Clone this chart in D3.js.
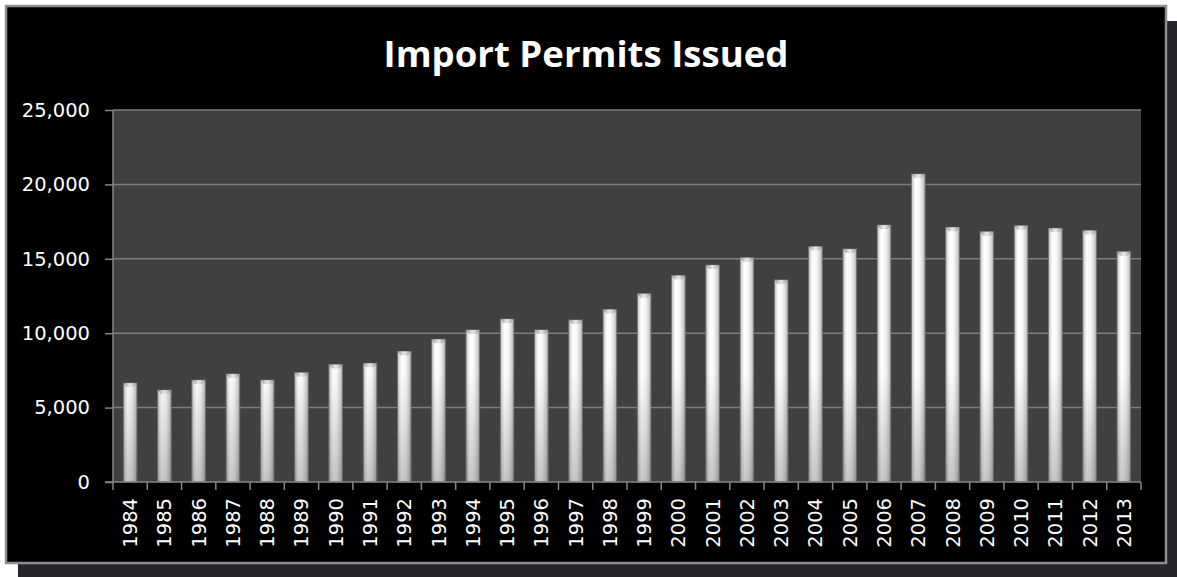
<!DOCTYPE html>
<html><head><meta charset="utf-8">
<script src="https://cdn.jsdelivr.net/npm/d3@7/dist/d3.min.js"></script>
<style>html,body{margin:0;padding:0;background:#fff;}svg{display:block;}</style>
</head><body>
<svg id="chart" width="1177" height="577"></svg>
<script>
const title = "Import Permits Issued";
const years = ["1984","1985","1986","1987","1988","1989","1990","1991","1992","1993","1994","1995","1996","1997","1998","1999","2000","2001","2002","2003","2004","2005","2006","2007","2008","2009","2010","2011","2012","2013"];
const permits = [6650,6180,6850,7260,6850,7350,7900,7980,8780,9590,10220,10950,10220,10890,11600,12650,13870,14580,15070,13580,15820,15660,17270,20700,17120,16820,17220,17050,16900,15480];
const yTicks = [0,5000,10000,15000,20000,25000];

const svg = d3.select("#chart");
const W = 1177, H = 577;
const plot = {left:113, right:1141, top:110, bottom:482};

// shadow
svg.append("rect").attr("x",18).attr("y",21).attr("width",W-18).attr("height",H-21).attr("fill","#26262a");
// frame
svg.append("rect").attr("x",6).attr("y",6).attr("width",1160).attr("height",557)
  .attr("fill","#000").attr("stroke","#8e8e92").attr("stroke-width",2.5);

const defs = svg.append("defs");
const g1 = defs.append("linearGradient").attr("id","barGrad").attr("x1","0").attr("x2","1").attr("y1","0").attr("y2","0");
[[0,"#a4a4a4"],[0.1,"#d8d8d8"],[0.3,"#ffffff"],[0.6,"#f6f6f6"],[0.85,"#d2d2d2"],[1,"#a0a0a0"]]
  .forEach(([o,c])=>g1.append("stop").attr("offset",o).attr("stop-color",c));
const g2 = defs.append("linearGradient").attr("id","capGrad").attr("x1","0").attr("x2","1").attr("y1","0").attr("y2","0");
[[0,"#858585"],[0.3,"#c4c4c4"],[0.5,"#e6e6e6"],[0.7,"#c4c4c4"],[1,"#858585"]]
  .forEach(([o,c])=>g2.append("stop").attr("offset",o).attr("stop-color",c));
const g3 = defs.append("linearGradient").attr("id","shadeGrad").attr("gradientUnits","userSpaceOnUse")
  .attr("x1",0).attr("x2",0).attr("y1",plot.bottom-110).attr("y2",plot.bottom);
[[0,"rgba(0,0,0,0)"],[1,"rgba(0,0,0,0.22)"]]
  .forEach(([o,c])=>g3.append("stop").attr("offset",o).attr("stop-color",c));

const x = d3.scaleBand().domain(years).range([plot.left, plot.right]).paddingInner(0.6).paddingOuter(0.3);
const xb = d3.scaleBand().domain(years).range([plot.left, plot.right]);
const y = d3.scaleLinear().domain([0,25000]).range([plot.bottom, plot.top]);

// plot background
svg.append("rect").attr("x",plot.left).attr("y",plot.top).attr("width",plot.right-plot.left).attr("height",plot.bottom-plot.top).attr("fill","#404040");

// gridlines
svg.append("g").selectAll("line").data(yTicks.filter(d=>d>0)).join("line")
  .attr("x1",plot.left).attr("x2",plot.right).attr("y1",d=>y(d)).attr("y2",d=>y(d))
  .attr("stroke","#7e7e7e").attr("stroke-width",1.5);

// bars
const bars = svg.append("g");
bars.selectAll("rect.bar").data(years).join("rect").attr("class","bar")
  .attr("x",d=>x(d)).attr("width",x.bandwidth())
  .attr("y",(d,i)=>y(permits[i])).attr("height",(d,i)=>y(0)-y(permits[i]))
  .attr("fill","url(#barGrad)").attr("stroke","#707070").attr("stroke-width",0.8);
bars.selectAll("rect.shade").data(years).join("rect").attr("class","shade")
  .attr("x",d=>x(d)).attr("width",x.bandwidth())
  .attr("y",(d,i)=>y(permits[i])).attr("height",(d,i)=>y(0)-y(permits[i]))
  .attr("fill","url(#shadeGrad)");
// top bevel
bars.selectAll("path.cap").data(years).join("path").attr("class","cap")
  .attr("d",(d,i)=>{
    const x0=x(d), w=x.bandwidth(), t=y(permits[i]);
    return `M${x0},${t}L${x0+w},${t}L${x0+w*0.78},${t+4}L${x0+w*0.22},${t+4}Z`;
  }).attr("fill","url(#capGrad)").attr("opacity",0.85);

// y axis
const yAxis = d3.axisLeft(y).tickValues(yTicks).tickSize(8).tickFormat(d3.format(","));
const ya = svg.append("g").attr("transform",`translate(${plot.left},0)`).call(yAxis);
ya.select(".domain").attr("stroke","#868686").attr("stroke-width",1.5).attr("d",`M0,${plot.top}V${plot.bottom}`);
ya.selectAll(".tick line").attr("stroke","#868686").attr("stroke-width",1.5);
ya.selectAll(".tick text").attr("x",-23).attr("fill","#fff")
  .style("font-family","'DejaVu Sans'").style("font-size","19.5px");

// x axis
const xAxis = d3.axisBottom(xb).tickSize(0).tickFormat(d=>d);
const xa = svg.append("g").attr("transform",`translate(0,${plot.bottom})`).call(xAxis);
xa.select(".domain").attr("stroke","#868686").attr("stroke-width",1.5).attr("d",`M${plot.left-8},0H${plot.right}`);
xa.selectAll(".tick text").attr("fill","#fff")
  .style("font-family","'DejaVu Sans'").style("font-size","19.5px")
  .attr("text-anchor","end").attr("transform","translate(0,16) rotate(-90)").attr("x",0).attr("y",0).attr("dy","0.36em");
// boundary ticks
const bounds = years.map(d=>xb(d)).concat([xb(years[years.length-1])+xb.bandwidth()]);
svg.append("g").selectAll("line").data(bounds).join("line")
  .attr("x1",d=>d).attr("x2",d=>d).attr("y1",plot.bottom).attr("y2",plot.bottom+8)
  .attr("stroke","#868686").attr("stroke-width",1.5);

// title
const t = svg.append("text").attr("x",586).attr("y",67).attr("text-anchor","middle")
  .attr("fill","#fff").style("font-family","'Open Sans'").style("font-weight","bold").style("font-size","36px").text(title);
const tw = t.node().getComputedTextLength();
t.style("font-size", (36*405/tw).toFixed(1)+"px");
</script>
</body></html>
